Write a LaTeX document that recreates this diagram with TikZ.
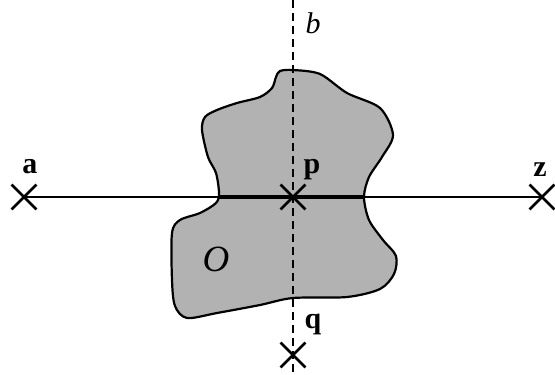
\documentclass[tikz,border=0pt]{standalone}
\usepackage{fontspec}
\setmainfont{Liberation Serif}
\usetikzlibrary{shapes.misc}
\begin{document}
\begin{tikzpicture}[x=1pt, y=-1pt,
  every node/.style={font=\fontsize{30}{33}\selectfont},
  crossmark/.style={draw, cross out, minimum size=22pt, inner sep=0pt, line width=2.8pt},
  lbl/.style={anchor=base, font=\fontsize{30}{33}\selectfont\bfseries},
  ital/.style={anchor=base, font=\fontsize{30}{33}\selectfont\itshape}]
  \useasboundingbox (0,0) rectangle (555,375);

  % obstacle O
  \draw[line width=2.2pt, fill=black!30] plot[smooth cycle, tension=0.5] coordinates {
    (280,71) (293,70) (320,74) (347,93) (380,108) (393,135) (382,157) (369,177)
    (364,197) (369,220) (383,240) (396,256) (394,274) (380,289) (347,297) (293,298)
    (260,305) (217,313) (187,318) (175,306) (172,280) (172,233) (180,220) (200,213)
    (216,203) (219,193) (216,173) (208,157) (202,130) (205,117) (217,110) (237,103)
    (260,97) (272,88) (276,77)};

  % points
  \node[crossmark] (a) at (24,197) {};
  \node[crossmark] (z) at (542,197) {};
  \node[crossmark] (p) at (293,197) {};
  \node[crossmark] (q) at (293,355) {};
  \coordinate (btop) at (293,0);
  \coordinate (bbot) at (293,375);
  \coordinate (oleft) at (218,197);
  \coordinate (oright) at (364,197);

  % line a--z, heavier inside O
  \draw[line width=2pt] (a.center) -- (z.center);
  \draw[line width=3.4pt] (oleft) -- (oright);

  % line b
  \draw[line width=2pt, dash pattern=on 8pt off 5pt] (btop) -- (bbot);

  % labels
  \node[lbl] (la) at (30,173) {a};
  \node[lbl] (lz) at (540,176) {z};
  \node[lbl] (lp) at (312,173) {p};
  \node[lbl] (lq) at (313,328) {q};
  \node[ital] (lb) at (313,33) {b};
  \node[ital, font=\fontsize{37}{40}\selectfont\itshape] (lo) at (216,271) {O};
\end{tikzpicture}
\end{document}
